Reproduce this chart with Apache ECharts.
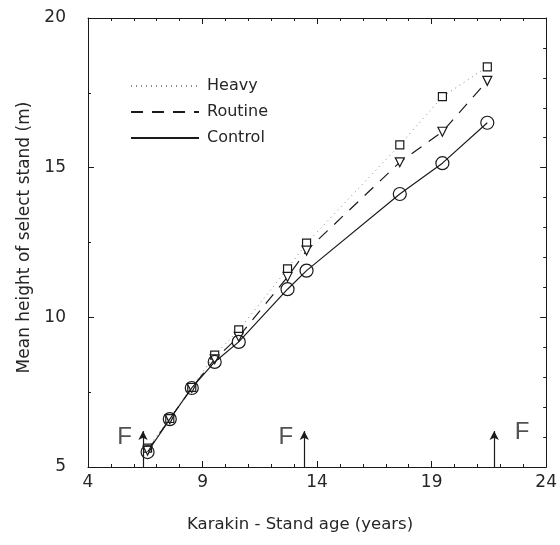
<!DOCTYPE html>
<html><head><meta charset="utf-8">
<script src="https://cdn.jsdelivr.net/npm/echarts@6/dist/echarts.min.js"></script>
<style>html,body{margin:0;padding:0;background:#fff}#c{width:560px;height:545px}</style>
</head><body><div id="c"></div>
<script>
const ages = [6.6, 7.57, 8.53, 9.53, 10.58, 12.71, 13.54, 17.61, 19.47, 21.43];
const heavy = [5.63, 6.62, 7.66, 8.74, 9.58, 11.62, 12.48, 15.76, 17.37, 18.37];
const routine = [5.55, 6.6, 7.64, 8.6, 9.35, 11.35, 12.23, 15.18, 16.2, 17.9];
const control = [5.5, 6.6, 7.64, 8.51, 9.18, 10.94, 11.56, 14.12, 15.15, 16.5];
const arrowX = [6.4, 13.44, 21.73];
const arrowBase = 5;
const arrowTop = 6.2;
const fLabelX = [5.6, 12.63, 22.95];
const fLabelY = [6.0, 6.0, 6.15];
const xTicks = [4, 9, 14, 19, 24];
const yTicks = [5, 10, 15, 20];
const seriesNames = ['Heavy', 'Routine', 'Control'];

const font = 'DejaVu Sans, Verdana, sans-serif';
const ink = '#1a1a1a';
const txt = '#262626';
const pairs = v => ages.map((a, i) => [a, v[i]]);

const chart = echarts.init(document.getElementById('c'));
const axisCommon = {
  type: 'value',
  axisLine: { show: true, lineStyle: { color: ink, width: 1 } },
  splitLine: { show: false },
  axisTick: { show: true, inside: true, length: 6, lineStyle: { color: ink } },
  minorTick: { show: true, length: 3, lineStyle: { color: ink } }
};
chart.setOption({
  animation: false,
  backgroundColor: '#fff',
  grid: { left: 88, right: 11, top: 18, bottom: 78 },
  legend: {
    orient: 'vertical', left: 125, top: 73,
    itemWidth: 68, itemHeight: 14, itemGap: 10,
    data: seriesNames,
    itemStyle: { opacity: 0 },
    textStyle: { fontFamily: font, fontSize: 16, color: txt, padding: [0, 0, 0, 3] }
  },
  xAxis: [
    Object.assign({}, axisCommon, {
      min: xTicks[0], max: xTicks[xTicks.length - 1], interval: 5, position: 'bottom',
      minorTick: { show: true, splitNumber: 5, length: 3, lineStyle: { color: ink } },
      axisLabel: { fontFamily: font, fontSize: 17, color: txt, margin: 7 },
      name: 'Karakin - Stand age (years)', nameLocation: 'middle', nameGap: 49,
      nameTextStyle: { fontFamily: font, fontSize: 16.5, color: txt, padding: [0, 34, 0, 0] }
    }),
    Object.assign({}, axisCommon, {
      min: xTicks[0], max: xTicks[xTicks.length - 1], interval: 5, position: 'top',
      minorTick: { show: true, splitNumber: 5, length: 3, lineStyle: { color: ink } },
      axisLabel: { show: false }
    })
  ],
  yAxis: [
    Object.assign({}, axisCommon, {
      min: yTicks[0], max: yTicks[yTicks.length - 1], interval: 5, position: 'left',
      minorTick: { show: true, splitNumber: 2, length: 3, lineStyle: { color: ink } },
      axisLabel: { fontFamily: font, fontSize: 17, color: txt, margin: 22 },
      name: 'Mean height of select stand (m)', nameLocation: 'middle', nameGap: 48,
      nameTextStyle: { fontFamily: font, fontSize: 17, color: txt, padding: [0, 0, 0, 10] }
    }),
    Object.assign({}, axisCommon, {
      min: yTicks[0], max: yTicks[yTicks.length - 1], interval: 5, position: 'right',
      minorTick: { show: true, splitNumber: 5, length: 3, lineStyle: { color: ink } },
      axisLabel: { show: false }
    })
  ],
  series: [
    {
      name: 'Heavy', type: 'line', data: pairs(heavy), z: 3,
      symbol: 'rect', symbolSize: 8,
      itemStyle: { color: '#fff', borderColor: ink, borderWidth: 1.2 },
      lineStyle: { color: '#888', width: 1, type: [1, 4] }
    },
    {
      name: 'Routine', type: 'line', data: pairs(routine), z: 4,
      symbol: 'triangle', symbolRotate: 180, symbolSize: 9,
      itemStyle: { color: '#fff', borderColor: ink, borderWidth: 1.2 },
      lineStyle: { color: ink, width: 1.2, type: [12, 9] }
    },
    {
      name: 'Control', type: 'line', data: pairs(control), z: 5,
      symbol: 'circle', symbolSize: 13,
      itemStyle: { color: 'rgba(255,255,255,0)', borderColor: ink, borderWidth: 1.2 },
      lineStyle: { color: ink, width: 1.2, type: 'solid' },
      markLine: {
        silent: true, symbol: ['none', 'arrow'], symbolSize: [7, 9],
        lineStyle: { color: ink, width: 1.2, type: 'solid' },
        label: { show: false },
        data: arrowX.map(x => [{ coord: [x, arrowBase] }, { coord: [x, arrowTop] }])
      }
    },
    {
      name: 'F', type: 'scatter', symbolSize: 0, silent: true,
      data: fLabelX.map((x, i) => [x, fLabelY[i]]),
      label: { show: true, position: 'inside', formatter: 'F', fontFamily: 'Liberation Sans, Arial, sans-serif', fontSize: 24, color: txt }
    }
  ]
});
</script></body></html>
